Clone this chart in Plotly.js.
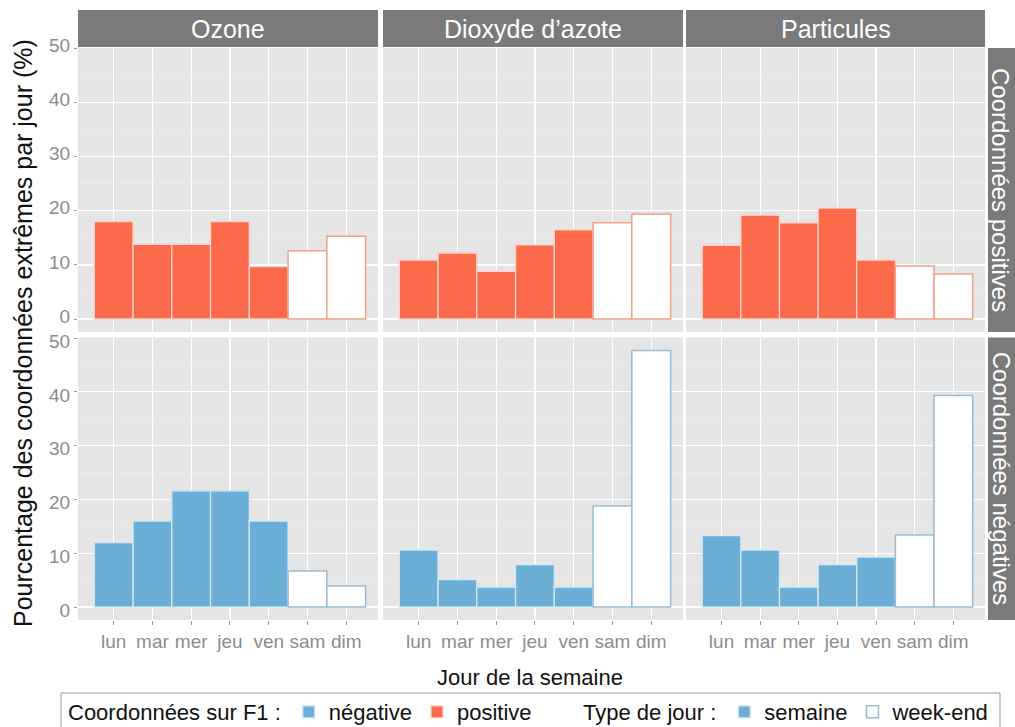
<!DOCTYPE html>
<html>
<head>
<meta charset="utf-8">
<script src="https://cdn.plot.ly/plotly-3.0.1.min.js"></script>
<style>html,body{margin:0;padding:0;background:#fff;}#chart{width:1015px;height:727px;}</style>
</head>
<body>
<div id="chart"></div>
<script>
// ---- data ----
const days = ['lun', 'mar', 'mer', 'jeu', 'ven', 'sam', 'dim'];
const pollutants = ['Ozone', 'Dioxyde d’azote', 'Particules'];
const rowLabels = ['Coordonnées positives', 'Coordonnées négatives'];
const ozonePos = [18.0, 13.8, 13.8, 18.0, 9.7, 12.6, 15.3];
const no2Pos   = [10.9, 12.2, 8.8, 13.7, 16.5, 17.8, 19.4];
const pmPos    = [13.6, 19.2, 17.8, 20.5, 10.9, 9.8, 8.3];
const ozoneNeg = [12.0, 16.0, 21.6, 21.6, 16.0, 6.7, 3.9];
const no2Neg   = [10.6, 5.1, 3.7, 7.9, 3.7, 18.8, 47.7];
const pmNeg    = [13.3, 10.6, 3.7, 7.9, 9.3, 13.4, 39.3];
const yTicks = [0, 10, 20, 30, 40, 50];
const legendTitles = ['Coordonnées sur F1 :', 'Type de jour :'];
const legendNames = ['négative', 'positive', 'semaine', 'week-end'];
const xTitle = 'Jour de la semaine';
const yTitle = 'Pourcentage des coordonnées extrêmes par jour (%)';

// ---- styles ----
const W = 1015, H = 727;
const px = x => x / W;
const py = y => 1 - y / H;
const RED = '#fb6a4a', BLUE = '#6baed6';
const colX = [[78, 378], [383, 683], [686, 985]];
const rowY = [[48, 332], [337.5, 620]];
const fontFam = '"Liberation Sans", Arial, sans-serif';

const values = [[ozonePos, no2Pos, pmPos], [ozoneNeg, no2Neg, pmNeg]];
const styles = [
  {fill: RED, wdLine: '#fcd3c6', weLine: '#f0a08c'},
  {fill: BLUE, wdLine: '#d4e9f5', weLine: '#9cbad0'}
];

const traces = [];
const legendTraces = [];
for (let r = 0; r < 2; r++) {
  for (let c = 0; c < 3; c++) {
    const i = r * 3 + c + 1;
    const ax = i === 1 ? '' : String(i);
    const v = values[r][c];
    const st = styles[r];
    const wd = {
      type: 'bar', x: days.slice(0, 5), y: v.slice(0, 5),
      xaxis: 'x' + ax, yaxis: 'y' + ax, width: 1,
      marker: {color: st.fill, line: {color: st.wdLine, width: 1.3}},
      showlegend: false, hoverinfo: 'x+y'
    };
    const we = {
      type: 'bar', x: days.slice(5), y: v.slice(5),
      xaxis: 'x' + ax, yaxis: 'y' + ax, width: 1,
      marker: {color: '#ffffff', line: {color: st.weLine, width: 1.5}},
      showlegend: false, hoverinfo: 'x+y'
    };
    if (r === 1 && c === 0) { wd.showlegend = true; wd.name = legendNames[0]; wd.legend = 'legend'; legendTraces[0] = wd;
                              we.showlegend = true; we.name = legendNames[3]; we.legend = 'legend2'; legendTraces[3] = we; }
    else if (r === 0 && c === 0) { wd.showlegend = true; wd.name = legendNames[1]; wd.legend = 'legend'; legendTraces[1] = wd; traces.push(we); }
    else if (r === 1 && c === 1) { wd.showlegend = true; wd.name = legendNames[2]; wd.legend = 'legend2'; legendTraces[2] = wd; traces.push(we); }
    else { traces.push(wd); traces.push(we); }
  }
}
const data = legendTraces.concat(traces);

const layout = {
  width: W, height: H,
  margin: {l: 0, r: 0, t: 0, b: 0, autoexpand: false},
  paper_bgcolor: '#ffffff', plot_bgcolor: '#e5e5e5',
  barmode: 'overlay', bargap: 0,
  font: {family: fontFam, color: '#1a1a1a'},
  showlegend: true,
  shapes: [], annotations: []
};

for (let r = 0; r < 2; r++) {
  for (let c = 0; c < 3; c++) {
    const i = r * 3 + c + 1;
    const key = i === 1 ? '' : String(i);
    layout['xaxis' + key] = {
      domain: [px(colX[c][0]), px(colX[c][1])],
      anchor: 'y' + key,
      type: 'category', categoryorder: 'array', categoryarray: days,
      range: [-0.92, 6.82], fixedrange: true,
      showgrid: true, gridcolor: '#ffffff', gridwidth: 1.2,
      zeroline: false, showline: false,
      showticklabels: r === 1,
      ticks: r === 1 ? 'outside' : '', ticklen: 4, tickcolor: '#9a9a9a', tickwidth: 1,
      tickfont: {size: 19, color: '#8c8c8c', family: fontFam}
    };
    layout['yaxis' + key] = {
      domain: [py(rowY[r][1]), py(rowY[r][0])],
      anchor: 'x' + key,
      range: [-2.4, 50.1], fixedrange: true,
      tickvals: yTicks,
      showgrid: true, gridcolor: '#ffffff', gridwidth: 1.2,
      minor: {dtick: 5, tick0: 5, showgrid: true, gridcolor: '#efefef', gridwidth: 0.6, ticks: ''},
      zeroline: false, showline: false,
      showticklabels: c === 0,
      ticklabelshift: r === 0 ? -3 : 3,
      ticks: c === 0 ? 'outside' : '', ticklen: 3, tickcolor: '#9a9a9a', tickwidth: 1,
      tickfont: {size: 19, color: '#8c8c8c', family: fontFam}
    };
  }
}

// facet strips (top)
for (let c = 0; c < 3; c++) {
  layout.shapes.push({type: 'rect', xref: 'paper', yref: 'paper',
    x0: px(colX[c][0]), x1: px(colX[c][1]), y0: py(47), y1: py(10),
    fillcolor: '#7a7a7a', line: {width: 0}, layer: 'below'});
  layout.annotations.push({xref: 'paper', yref: 'paper', x: px((colX[c][0] + colX[c][1]) / 2), y: py(29),
    text: pollutants[c], showarrow: false, xanchor: 'center', yanchor: 'middle',
    font: {size: 25, color: '#ffffff', family: fontFam}});
}
// facet strips (right)
for (let r = 0; r < 2; r++) {
  layout.shapes.push({type: 'rect', xref: 'paper', yref: 'paper',
    x0: px(988), x1: px(1016), y0: py(rowY[r][1]), y1: py(rowY[r][0]),
    fillcolor: '#7a7a7a', line: {width: 0}, layer: 'below'});
  layout.annotations.push({xref: 'paper', yref: 'paper', x: px(1001), y: py((rowY[r][0] + rowY[r][1]) / 2),
    text: rowLabels[r], showarrow: false, textangle: 90, xanchor: 'center', yanchor: 'middle',
    font: {size: 24, color: '#ffffff', family: fontFam}});
}
// axis titles
layout.annotations.push({xref: 'paper', yref: 'paper', x: px(23), y: py(333),
  text: yTitle, showarrow: false, textangle: -90, xanchor: 'center', yanchor: 'middle',
  font: {size: 25, color: '#111111', family: fontFam}});
layout.annotations.push({xref: 'paper', yref: 'paper', x: px(530), y: py(677),
  text: xTitle, showarrow: false, xanchor: 'center', yanchor: 'middle',
  font: {size: 22, color: '#111111', family: fontFam}});

// legend frame
layout.shapes.push({type: 'rect', xref: 'paper', yref: 'paper',
  x0: px(61), x1: px(1000), y0: py(733), y1: py(693),
  fillcolor: 'rgba(0,0,0,0)', line: {color: '#9a9a9a', width: 1}});

layout.legend = {
  orientation: 'h', x: px(66), xanchor: 'left', y: py(712), yanchor: 'middle',
  title: {text: legendTitles[0], side: 'left', font: {size: 22, color: '#111111', family: fontFam}},
  font: {size: 22, color: '#111111', family: fontFam},
  bgcolor: 'rgba(0,0,0,0)', borderwidth: 0, itemwidth: 30, traceorder: 'normal', tracegroupgap: 0
};
layout.legend2 = {
  orientation: 'h', x: px(581), xanchor: 'left', y: py(712), yanchor: 'middle',
  title: {text: legendTitles[1], side: 'left', font: {size: 22, color: '#111111', family: fontFam}},
  font: {size: 22, color: '#111111', family: fontFam},
  bgcolor: 'rgba(0,0,0,0)', borderwidth: 0, itemwidth: 30, traceorder: 'normal', tracegroupgap: 0
};

Plotly.newPlot('chart', data, layout, {displayModeBar: false, staticPlot: true});
</script>
</body>
</html>
